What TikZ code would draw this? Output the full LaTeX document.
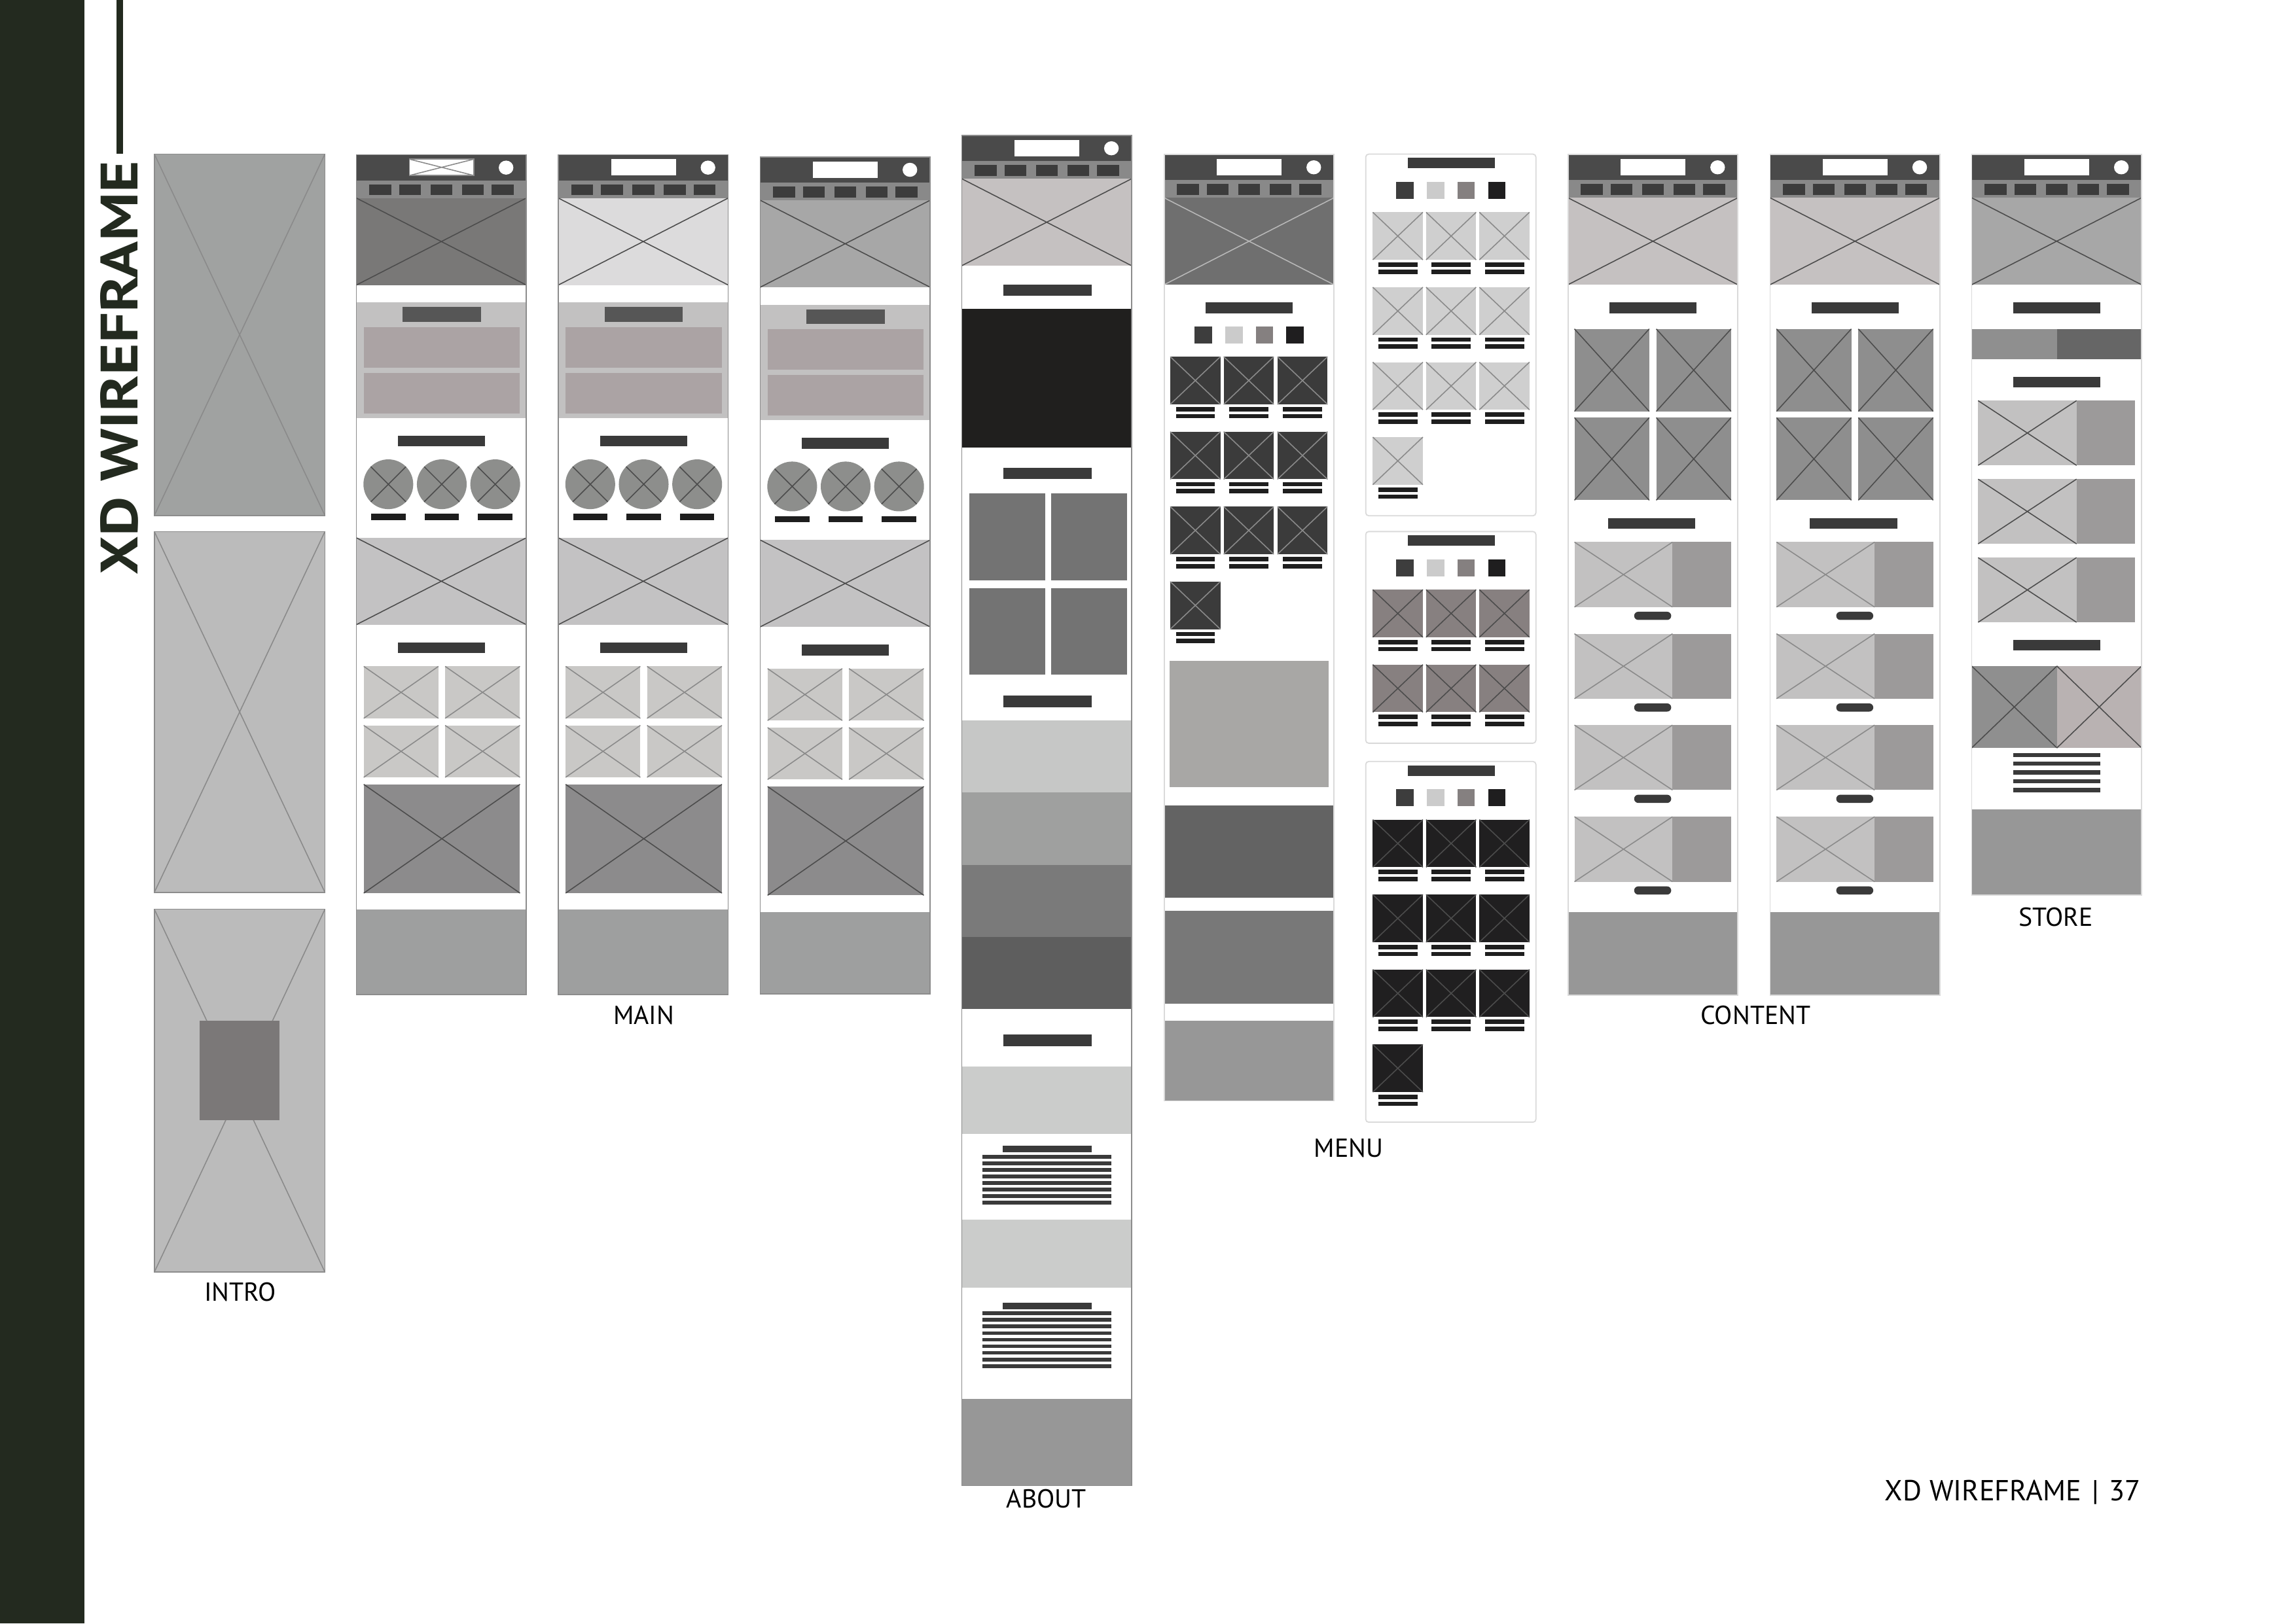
\documentclass[tikz,border=0pt]{standalone}
\usepackage{fontspec}
\setmainfont{PT Sans}
\usepackage{graphicx}

% ---------- palette ----------
\definecolor{cSidebar}{HTML}{232A1F}
\definecolor{cHdr}{HTML}{4A4A4A}
\definecolor{cNav}{HTML}{898989}
\definecolor{cBtn}{HTML}{3C3C3C}
\definecolor{cTbar}{HTML}{3A3A3A}
\definecolor{cTbarTwo}{HTML}{565656}
\definecolor{cInk}{HTML}{1E1E1E}
\definecolor{cSec}{HTML}{C2C1C1}
\definecolor{cMauve}{HTML}{ABA3A4}
\definecolor{cCirc}{HTML}{8D8E8C}
\definecolor{cXsec}{HTML}{C3C2C3}
\definecolor{cSmallX}{HTML}{C9C8C6}
\definecolor{cBigX}{HTML}{8C8B8C}
\definecolor{cFootM}{HTML}{9E9F9F}
\definecolor{cFoot}{HTML}{979797}
\definecolor{cXdark}{HTML}{4C4C4C}
\definecolor{cXmid}{HTML}{8A8A8A}
\definecolor{cXpale}{HTML}{B8B8B8}
\definecolor{cColLine}{HTML}{8C8C8C}
\definecolor{cPanelLine}{HTML}{DADADA}
\definecolor{cHeroA}{HTML}{797877}
\definecolor{cHeroB}{HTML}{DCDBDC}
\definecolor{cHeroC}{HTML}{A7A7A7}
\definecolor{cHeroRose}{HTML}{C5C1C1}
\definecolor{cHeroMenu}{HTML}{6F6F6F}
\definecolor{cBlack}{HTML}{201F1E}
\definecolor{cAbBox}{HTML}{737373}
\definecolor{cBandA}{HTML}{C6C7C6}
\definecolor{cBandB}{HTML}{9FA09F}
\definecolor{cBandC}{HTML}{7A7A7A}
\definecolor{cBandD}{HTML}{5E5E5E}
\definecolor{cBandE}{HTML}{CBCCCB}
\definecolor{cSwA}{HTML}{3D3D3D}
\definecolor{cSwB}{HTML}{CBCBCB}
\definecolor{cSwC}{HTML}{858080}
\definecolor{cSwD}{HTML}{1F1E1F}
\definecolor{cTileDark}{HTML}{3B3B3B}
\definecolor{cTileLight}{HTML}{CFCFCF}
\definecolor{cTileRose}{HTML}{878080}
\definecolor{cTileBlack}{HTML}{201F20}
\definecolor{cMenuBox}{HTML}{A8A7A5}
\definecolor{cMenuBandA}{HTML}{636363}
\definecolor{cMenuBandB}{HTML}{787878}
\definecolor{cContBox}{HTML}{8E8E8E}
\definecolor{cItemImg}{HTML}{C2C1C1}
\definecolor{cItemSide}{HTML}{9C9A9A}
\definecolor{cStoreL}{HTML}{8F8F8F}
\definecolor{cStoreR}{HTML}{666666}
\definecolor{cStoreRose}{HTML}{B9B2B2}
\definecolor{cIntroA}{HTML}{A0A2A1}
\definecolor{cIntroB}{HTML}{BBBBBB}
\definecolor{cIntroSq}{HTML}{7B7878}

% ---------- building blocks (local coordinates, y downwards) ----------
% image placeholder: filled rectangle crossed by its diagonals
\newcommand\xrect[6]{%
  \fill[#1] (#3,#4) rectangle (#5,#6);
  \draw[#2,xl] (#3,#4) -- (#5,#6) (#3,#6) -- (#5,#4);}

% page header: top bar, logo, avatar, navigation, hero image
\newcommand\wfhead[2]{%
  \fill[cHdr] (0,0) rectangle (116,17.6);
  \fill[white] (36.1,3) rectangle (80.3,14.2);
  \fill[white] (102.2,8.8) ellipse [x radius=5, y radius=4.8];
  \fill[cNav] (0,17.6) rectangle (116,29.6);
  \foreach \bx in {8.8,29.1,50.6,72.0,92.3}{\fill[cBtn] (\bx,20.2) rectangle ++(15,7.4);}
  \xrect{#1}{#2}{0}{29.6}{116}{89}}

% four colour swatches
\newcommand\wfswatch[1]{%
  \fill[cSwA] (20.8,#1) rectangle ++(11.9,11.6);
  \fill[cSwB] (41.7,#1) rectangle ++(11.9,11.6);
  \fill[cSwC] (62.6,#1) rectangle ++(11.9,11.6);
  \fill[cSwD] (83.5,#1) rectangle ++(11.9,11.6);}

% product tile with two caption lines
\newcommand\wftile[4]{%
  \xrect{#3}{#4}{#1}{#2}{#1+34.2}{#2+32.5}
  \fill[cInk] (#1+3.8,#2+34.3) rectangle (#1+30.6,#2+37.3);
  \fill[cInk] (#1+3.8,#2+39.1) rectangle (#1+30.6,#2+42.1);}

% main page layout
\newcommand\wfmain[3]{%
  \wfhead{#1}{#2}
  \fill[cSec] (0,101) rectangle (116,179.8);
  \fill[cTbarTwo] (31.5,104) rectangle (85,114.2);
  \fill[cMauve] (5,117.6) rectangle (111.7,145.3);
  \fill[cMauve] (5,148.9) rectangle (111.7,176.7);
  \fill[cTbar] (28.5,191.8) rectangle (88,199.2);
  \foreach \cx in {21.8,58.3,94.8}{
    \fill[cCirc] (\cx,225.1) circle [radius=17];
    \draw[cXdark,xl] (\cx-12,213.1) -- (\cx+12,237.1) (\cx-12,237.1) -- (\cx+12,213.1);
    \fill[cInk] (\cx-11.75,245.3) rectangle (\cx+11.75,249.5);}
  \xrect{cXsec}{cXdark}{0}{261.7}{116}{321}
  \fill[cTbar] (28.5,333.1) rectangle (88,340.5);
  \xrect{cSmallX}{cXmid}{5}{349.5}{56}{385}
  \xrect{cSmallX}{cXmid}{60.6}{349.5}{111.7}{385}
  \xrect{cSmallX}{cXmid}{5}{389.8}{56}{425.3}
  \xrect{cSmallX}{cXmid}{60.6}{389.8}{111.7}{425.3}
  \xrect{cBigX}{cXdark}{5}{430.1}{111.7}{504.4}
  \fill[cFootM] (0,515.7) rectangle (116,#3);
  \draw[cColLine,line width=0.35pt] (0,0) rectangle (116,#3);}

% menu overlay panel: title, swatches, rows of tiles
\newcommand\wfpanel[5]{% height, full rows, tile fill, cross colour, extra single tile (1/0)
  \draw[cPanelLine,line width=0.4pt,rounded corners=1pt] (0,0) rectangle (116.2,#1);
  \fill[cTbar] (28.7,2.6) rectangle (88.3,9.7);
  \wfswatch{18.9}
  \foreach \r in {1,...,#2}{
    \pgfmathsetmacro\rowy{39.7+51.2*\r-51.2}
    \foreach \c in {4.8,41.2,77.6}{\wftile{\c}{\rowy}{#3}{#4}}}
  \pgfmathsetmacro\lasty{39.7+51.2*#2}
  \ifnum#5=1 \wftile{4.8}{\lasty}{#3}{#4}\fi}

% content page layout
\newcommand\wfcontent{%
  \wfhead{cHeroRose}{cXdark}
  \fill[cTbar] (28.3,101.2) rectangle (87.7,108.5);
  \xrect{cContBox}{cXdark}{4.4}{119.2}{55.5}{175.5}
  \xrect{cContBox}{cXdark}{60.3}{119.2}{111.4}{175.5}
  \xrect{cContBox}{cXdark}{4.4}{179.8}{55.5}{236.2}
  \xrect{cContBox}{cXdark}{60.3}{179.8}{111.4}{236.2}
  \fill[cTbar] (27.2,248.5) rectangle (86.8,255.7);
  \foreach \iy in {264.8,327.4,389.8,452.4}{
    \xrect{cItemImg}{cXmid}{4.4}{\iy}{71.4}{\iy+44.4}
    \fill[cItemSide] (71.4,\iy) rectangle (111.4,\iy+44.4);
    \fill[cTbar,rounded corners=1.4pt] (45.2,\iy+47.6) rectangle (70.5,\iy+53.2);}
  \fill[cFoot] (0,517.4) rectangle (116,574.4);
  \draw[cPanelLine,line width=0.4pt] (0,0) rectangle (116,574.4);}

\begin{document}
\begin{tikzpicture}[x=0.5pt,y=-0.5pt,
  xl/.style={line width=0.35pt},
  lbl/.style={inner sep=0pt,anchor=base,font=\fontsize{8.9pt}{10pt}\selectfont}]
\useasboundingbox (0,0) rectangle (1568,1109);
\fill[white] (0,0) rectangle (1568,1109);

% ---------- side band and vertical title ----------
\fill[cSidebar] (0,0) rectangle (57.5,1109);
\fill[cSidebar] (79.4,0) rectangle (84.1,105);
\node[rotate=90,inner sep=0pt,text=cSidebar] (title) at (81.5,251.3)
  {\resizebox{141.3pt}{12.75pt}{\bfseries XD WIREFRAME}};

% ---------- INTRO ----------
\xrect{cIntroA}{cXmid}{105.4}{105.2}{221.9}{352.1}
\draw[cColLine,line width=0.35pt] (105.4,105.2) rectangle (221.9,352.1);
\xrect{cIntroB}{cXmid}{105.4}{363.1}{221.9}{609.6}
\draw[cColLine,line width=0.35pt] (105.4,363.1) rectangle (221.9,609.6);
\xrect{cIntroB}{cXmid}{105.4}{621.1}{221.9}{869}
\fill[cIntroSq] (136.4,697.1) rectangle (191,765.1);
\draw[cColLine,line width=0.35pt] (105.4,621.1) rectangle (221.9,869);
\node[lbl] (lintro) at (164,888.9) {INTRO};

% ---------- MAIN ----------
\begin{scope}[shift={(243.4,105.7)}]
  \wfmain{cHeroA}{cXdark}{573.6}
  \draw[cXmid,xl] (36.1,3) -- (80.3,14.2) (36.1,14.2) -- (80.3,3);
  \draw[cXmid,xl] (36.1,3) rectangle (80.3,14.2);
\end{scope}
\begin{scope}[shift={(381.3,105.7)}]
  \wfmain{cHeroB}{cXdark}{573.6}
\end{scope}
\begin{scope}[shift={(519.2,107.2)}]
  \wfmain{cHeroC}{cXdark}{571.8}
\end{scope}
\node[lbl] (lmain) at (439.7,699.7) {MAIN};

% ---------- ABOUT ----------
\begin{scope}[shift={(656.8,92.5)}]
  \wfhead{cHeroRose}{cXdark}
  \fill[cTbar] (28.3,101.8) rectangle (88.6,109.4);
  \fill[cBlack] (0,118.5) rectangle (116,213.4);
  \fill[cTbar] (28.3,227.1) rectangle (88.6,234.7);
  \fill[cAbBox] (5,244.4) rectangle (56.9,303.8);
  \fill[cAbBox] (61.2,244.4) rectangle (113.1,303.8);
  \fill[cAbBox] (5,309.2) rectangle (56.9,368.4);
  \fill[cAbBox] (61.2,309.2) rectangle (113.1,368.4);
  \fill[cTbar] (28.3,382.8) rectangle (88.6,390.5);
  \fill[cBandA] (0,399.4) rectangle (116,448.7);
  \fill[cBandB] (0,448.7) rectangle (116,498.2);
  \fill[cBandC] (0,498.2) rectangle (116,547.7);
  \fill[cBandD] (0,547.7) rectangle (116,596.7);
  \fill[cTbar] (28.3,614.3) rectangle (88.6,622);
  \fill[cBandE] (0,635.9) rectangle (116,682.3);
  \fill[cTbar] (28.1,690.2) rectangle (88.7,694.8);
  \foreach \k in {0,...,7}{\fill[cTbar] (14.2,696.3+4.49*\k) rectangle ++(88.1,2.6);}
  \fill[cBandE] (0,740.8) rectangle (116,787);
  \fill[cTbar] (28.1,797.3) rectangle (88.7,802);
  \foreach \k in {0,...,8}{\fill[cTbar] (14.2,803.4+4.49*\k) rectangle ++(88.1,2.6);}
  \fill[cFoot] (0,862.9) rectangle (116,922.3);
  \draw[cColLine,line width=0.35pt] (0,0) rectangle (116,922.3);
\end{scope}
\node[lbl] (labout) at (714.6,1030.2) {ABOUT};

% ---------- MENU ----------
\begin{scope}[shift={(795,105.5)}]
  \wfhead{cHeroMenu}{cXpale}
  \fill[cTbar] (28.1,101.2) rectangle (87.7,108.5);
  \wfswatch{117.4}
  \foreach \r in {0,1,2}{
    \pgfmathsetmacro\rowy{138.2+51.2*\r}
    \foreach \c in {4.2,40.7,77.4}{\wftile{\c}{\rowy}{cTileDark}{cXmid}}}
  \wftile{4.2}{291.8}{cTileDark}{cXmid}
  \fill[cMenuBox] (3.9,345.8) rectangle (112.2,432.3);
  \fill[cMenuBandA] (0,444.6) rectangle (116,507.8);
  \fill[cMenuBandB] (0,516.9) rectangle (116,580.1);
  \fill[cFoot] (0,591.9) rectangle (116,646.5);
  \draw[cPanelLine,line width=0.4pt] (0,0) rectangle (116,646.5);
\end{scope}
\begin{scope}[shift={(932.7,105.3)}]
  \wfpanel{247}{3}{cTileLight}{cXmid}{1}
\end{scope}
\begin{scope}[shift={(932.7,363.1)}]
  \wfpanel{144.6}{2}{cTileRose}{cXdark}{0}
\end{scope}
\begin{scope}[shift={(932.7,520.2)}]
  \wfpanel{246.4}{3}{cTileBlack}{cXdark}{1}
\end{scope}
\node[lbl] (lmenu) at (921,790.3) {MENU};

% ---------- CONTENT ----------
\begin{scope}[shift={(1070.8,105.5)}]
  \wfcontent
\end{scope}
\begin{scope}[shift={(1208.8,105.5)}]
  \wfcontent
\end{scope}
\node[lbl] (lcontent) at (1198.9,699.9) {CONTENT};

% ---------- STORE ----------
\begin{scope}[shift={(1346.5,105.5)}]
  \wfhead{cHeroC}{cXdark}
  \fill[cTbar] (28.3,101.2) rectangle (87.8,108.6);
  \fill[cStoreL] (0,119.1) rectangle (58.2,139.7);
  \fill[cStoreR] (58.2,119.1) rectangle (116,139.7);
  \fill[cTbar] (28.3,151.9) rectangle (87.8,159.1);
  \foreach \iy in {168.2,221.8,275.4}{
    \xrect{cItemImg}{cXdark}{4.4}{\iy}{71.6}{\iy+44.2}
    \fill[cItemSide] (71.6,\iy) rectangle (111.6,\iy+44.2);}
  \fill[cTbar] (28.3,331.8) rectangle (87.8,339);
  \xrect{cStoreL}{cXdark}{0}{349.5}{58.2}{405.4}
  \xrect{cStoreRose}{cXdark}{58.2}{349.5}{116}{405.4}
  \foreach \k in {0,...,4}{\fill[cTbar] (28.3,408.8+6*\k) rectangle ++(59.5,2.85);}
  \fill[cFoot] (0,447.4) rectangle (116,506.1);
  \draw[cPanelLine,line width=0.4pt] (0,0) rectangle (116,506.1);
\end{scope}
\node[lbl] (lstore) at (1404,632.5) {STORE};

% ---------- running footer ----------
\node[inner sep=0pt,anchor=base east,font=\fontsize{9.9pt}{12pt}\selectfont] (pagefoot)
  at (1462.2,1025.2) {XD WIREFRAME\hspace{0.35em}\textbar\hspace{0.35em}37};
\end{tikzpicture}
\end{document}
